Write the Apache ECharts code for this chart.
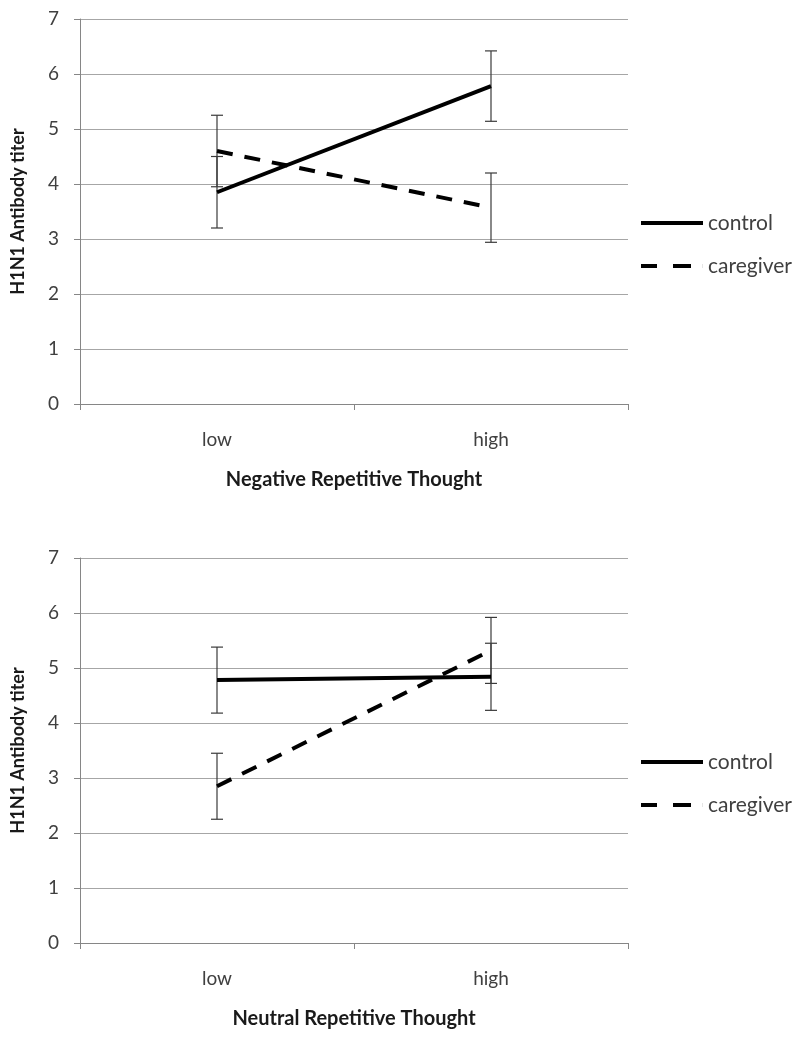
<!DOCTYPE html>
<html>
<head>
<meta charset="utf-8">
<script src="https://cdn.jsdelivr.net/npm/echarts@6/dist/echarts.min.js"></script>
<style>html,body{margin:0;padding:0;background:#fff}#c{width:800px;height:1038px}</style>
</head>
<body>
<div id="c"></div>
<script>
var categories = ['low', 'high'];
var yTicks = [0, 1, 2, 3, 4, 5, 6, 7];
var negControl = [3.85, 5.78];
var negControlErr = [0.65, 0.64];
var negCaregiver = [4.6, 3.57];
var negCaregiverErr = [0.65, 0.63];
var neuControl = [4.78, 4.84];
var neuControlErr = [0.6, 0.61];
var neuCaregiver = [2.85, 5.32];
var neuCaregiverErr = [0.6, 0.6];
var seriesNames = ['control', 'caregiver'];
var xTitles = ['Negative Repetitive Thought', 'Neutral Repetitive Thought'];
var yTitle = 'H1N1 Antibody titer';

var FONT = 'Lato, "Open Sans", sans-serif';
var SOLID_ICON = 'path://M0,0H62V4H0Z';
var DASH_ICON = 'path://M0,0H16V4H0Z M32,0H50V4H32Z M61.9,0H62V4H61.9Z';

function errData(vals, errs) {
  return vals.map(function (v, i) { return [i, v - errs[i], v + errs[i]]; });
}
function errSeries(vals, errs, gi) {
  return {
    type: 'custom', xAxisIndex: gi, yAxisIndex: gi, silent: true, z: 1,
    data: errData(vals, errs),
    renderItem: function (params, api) {
      var lo = api.coord([api.value(0), api.value(1)]);
      var hi = api.coord([api.value(0), api.value(2)]);
      var w = 6;
      var st = { stroke: '#3a3a3a', lineWidth: 1.2 };
      return { type: 'group', children: [
        { type: 'line', shape: { x1: lo[0], y1: lo[1], x2: hi[0], y2: hi[1] }, style: st },
        { type: 'line', shape: { x1: lo[0] - w, y1: lo[1], x2: lo[0] + w, y2: lo[1] }, style: st },
        { type: 'line', shape: { x1: hi[0] - w, y1: hi[1], x2: hi[0] + w, y2: hi[1] }, style: st }
      ]};
    }
  };
}
function lineSeries(name, vals, gi, dashed) {
  return {
    name: name, type: 'line', xAxisIndex: gi, yAxisIndex: gi, z: 3,
    data: vals, symbol: 'none', silent: true,
    lineStyle: { color: '#000', width: 4, type: dashed ? [16, 12] : 'solid', cap: 'butt' },
    itemStyle: { color: '#000' }
  };
}
var grids = [
  { left: 80, right: 172, top: 19, height: 385 },
  { left: 80, right: 172, top: 558, height: 385 }
];
function xAxis(gi) {
  return {
    type: 'category', gridIndex: gi, data: categories, boundaryGap: true,
    axisLine: { lineStyle: { color: '#868686', width: 1 } },
    axisTick: { show: true, length: 6, lineStyle: { color: '#868686' } },
    axisLabel: { color: '#404040', fontSize: 19, fontFamily: FONT, margin: 26 },
    name: xTitles[gi], nameLocation: 'middle', nameGap: 66,
    nameTextStyle: { color: '#1a1a1a', fontSize: 20, fontWeight: 'bold', fontFamily: FONT }
  };
}
function yAxis(gi) {
  return {
    type: 'value', gridIndex: gi, min: yTicks[0], max: yTicks[yTicks.length - 1], interval: 1,
    axisLine: { show: true, lineStyle: { color: '#868686', width: 1 } },
    axisTick: { show: true, length: 6, lineStyle: { color: '#868686' } },
    axisLabel: { color: '#404040', fontSize: 19, fontFamily: FONT, margin: 21 },
    splitLine: { show: true, lineStyle: { color: '#a6a6a6', width: 1 } },
    name: yTitle, nameLocation: 'middle', nameGap: 53, nameRotate: 90,
    nameTextStyle: { color: '#1a1a1a', fontSize: 18, fontWeight: 'bold', fontFamily: FONT }
  };
}
function legend(top) {
  return {
    top: top, left: 641, padding: 0, orient: 'vertical', itemWidth: 62, itemHeight: 4, itemGap: 19,
    data: [{ name: seriesNames[0], icon: SOLID_ICON }, { name: seriesNames[1], icon: DASH_ICON }],
    selectedMode: false, itemStyle: { color: '#000', borderWidth: 0 },
    textStyle: { color: '#404040', fontSize: 21, fontFamily: FONT, padding: [0, 0, 0, 0], lineHeight: 24 }
  };
}
var chart = echarts.init(document.getElementById('c'), null, { renderer: 'canvas' });
chart.setOption({
  animation: false,
  backgroundColor: '#fff',
  grid: grids,
  xAxis: [xAxis(0), xAxis(1)],
  yAxis: [yAxis(0), yAxis(1)],
  legend: [legend(211), legend(750)],
  series: [
    errSeries(negControl, negControlErr, 0),
    errSeries(negCaregiver, negCaregiverErr, 0),
    lineSeries(seriesNames[0], negControl, 0, false),
    lineSeries(seriesNames[1], negCaregiver, 0, true),
    errSeries(neuControl, neuControlErr, 1),
    errSeries(neuCaregiver, neuCaregiverErr, 1),
    lineSeries(seriesNames[0], neuControl, 1, false),
    lineSeries(seriesNames[1], neuCaregiver, 1, true)
  ]
});
</script>
</body>
</html>
